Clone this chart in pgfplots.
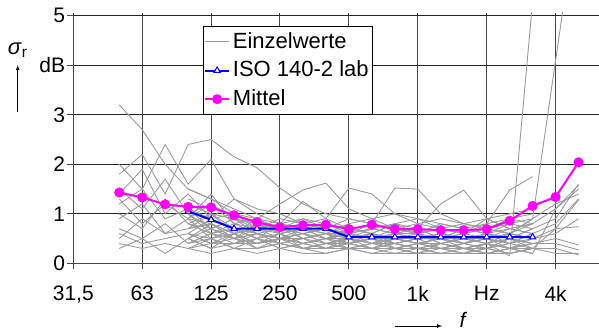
\documentclass[border=0pt]{standalone}
\usepackage{fontspec}
\setmainfont{Liberation Sans}
\usepackage{pgfplots}
\usepackage{pgfplotstable}
\pgfplotsset{compat=1.18}
\definecolor{grayline}{RGB}{155,155,155}
\definecolor{gridc}{RGB}{70,70,70}
\definecolor{mag}{RGB}{255,0,255}
\definecolor{isoblue}{RGB}{0,0,255}

% individual curves, 50 Hz ... 5000 Hz (band index 2..22); one row per curve
\pgfplotstableread{
c2 c3 c4 c5 c6 c7 c8 c9 c10 c11 c12 c13 c14 c15 c16 c17 c18 c19 c20 c21 c22
3.2 2.7 2.0 1.5 1.3 1.1 0.9 0.8 0.9 0.7 0.6 0.7 0.6 0.5 0.6 0.5 0.6 0.7 0.8 1.1 1.5
2.0 1.5 2.4 1.6 2.1 1.3 1.1 1.0 0.8 0.9 0.7 0.6 0.8 0.6 0.5 0.7 0.6 0.5 0.7 0.9 1.6
1.8 2.2 1.4 2.4 2.5 2.15 1.93 1.52 1.2 1.0 0.9 0.8 0.7 0.8 0.7 0.6 0.7 0.8 0.9 1.2 1.4
1.5 1.1 1.7 1.0 1.2 0.9 0.8 0.7 0.6 0.7 0.5 0.6 0.5 0.4 0.5 0.4 0.5 0.4 0.6 0.8 1.3
1.4 1.9 1.0 1.4 0.9 1.0 0.7 0.8 0.7 0.6 0.6 0.5 0.6 0.6 0.4 0.5 0.4 0.6 0.5 0.7 0.74
1.3 0.8 1.2 0.9 1.4 0.8 0.9 0.6 0.7 0.5 0.5 0.6 0.4 0.5 0.5 0.4 0.5 0.4 0.5 0.6 0.9
1.2 1.5 0.9 1.1 0.7 0.9 0.6 0.7 0.5 0.6 0.4 0.5 0.5 0.4 0.3 0.4 0.3 0.5 0.4 0.5 0.37
1.0 0.7 1.3 0.8 1.0 0.6 0.7 0.5 0.6 0.4 0.5 0.4 0.3 0.4 0.4 0.3 0.4 0.3 0.4 0.4 0.27
0.9 1.2 0.6 0.9 0.5 0.7 0.5 0.6 0.4 0.5 0.3 0.4 0.4 0.3 0.3 0.3 0.2 0.3 0.3 0.3 0.17
0.7 0.5 0.8 0.4 0.6 0.5 0.4 0.5 0.3 0.4 0.4 0.3 0.3 0.2 0.3 0.2 0.3 0.2 0.3 0.2 0.2
0.6 0.4 0.5 0.6 0.4 0.4 0.5 0.3 0.4 0.3 0.3 0.2 0.3 0.3 0.2 0.2 0.2 0.3 0.2 1.1 1.58
0.4 0.3 0.4 0.3 0.5 0.3 0.3 0.4 0.3 0.2 0.3 0.3 0.2 0.2 0.2 0.3 0.2 0.2 0.3 0.7 1.28
0.3 0.5 0.2 0.5 0.3 0.6 0.4 0.5 0.4 0.5 0.4 0.3 0.4 0.3 0.4 0.3 0.4 0.15 5.3 9 12
0.5 0.9 0.6 0.7 0.8 0.5 0.6 0.5 0.5 0.4 0.5 0.4 0.5 0.4 0.5 0.6 0.5 0.6 0.9 4.1 7.3
}\rawA
\pgfplotstabletranspose\tabA{\rawA}

% individual curves, 100 Hz ... 3150 Hz (band index 5..20); one row per curve
\pgfplotstableread{
c5 c6 c7 c8 c9 c10 c11 c12 c13 c14 c15 c16 c17 c18 c19 c20
1.3 1.1 1.0 0.9 1.2 1.48 1.62 1.1 0.9 1.0 0.8 0.9 0.8 0.9 1.0 1.1
1.1 0.9 1.3 1.0 0.8 1.25 0.9 1.52 1.4 1.0 0.9 0.8 0.7 0.8 1.48 1.75
0.9 1.2 0.8 0.7 0.9 0.8 0.7 0.9 0.8 1.52 1.5 1.0 0.8 0.7 0.9 0.8
0.8 0.7 0.9 0.8 0.6 0.7 0.8 0.6 0.7 0.8 0.7 1.2 1.48 0.9 0.7 0.8
0.7 0.8 0.6 0.7 0.7 0.6 0.5 0.7 0.6 0.5 0.6 0.7 0.6 0.8 0.9 1.0
0.6 0.9 0.7 0.5 0.8 0.5 0.6 0.5 0.7 0.6 0.5 0.5 0.7 0.6 0.5 0.7
1.0 0.6 0.8 0.6 0.5 0.7 0.6 0.4 0.5 0.7 0.6 0.4 0.5 0.5 0.6 0.5
0.5 0.7 0.5 0.8 0.6 0.4 0.5 0.6 0.5 0.4 0.5 0.6 0.4 0.6 0.4 0.6
0.4 0.5 0.6 0.4 0.5 0.6 0.4 0.5 0.4 0.5 0.4 0.5 0.5 0.4 0.5 0.4
0.8 0.6 0.4 0.6 0.4 0.5 0.3 0.4 0.6 0.3 0.4 0.3 0.4 0.5 0.3 0.5
0.3 0.4 0.5 0.3 0.4 0.3 0.4 0.3 0.4 0.4 0.3 0.4 0.3 0.3 0.4 0.3
0.6 0.5 0.3 0.5 0.3 0.4 0.5 0.4 0.3 0.5 0.5 0.3 0.2 0.4 0.3 0.4
0.5 0.3 0.4 0.4 0.6 0.3 0.3 0.5 0.3 0.3 0.2 0.4 0.3 0.2 0.3 0.2
1.2 1.0 0.7 0.6 0.5 0.6 0.7 0.6 0.5 0.6 0.7 0.5 0.6 0.7 0.6 0.9
0.7 1.0 0.9 0.7 0.8 0.7 0.6 0.8 0.9 0.7 0.6 0.8 0.7 0.6 0.8 0.7
0.9 0.8 0.6 0.9 0.7 0.9 0.8 0.7 0.6 0.8 0.9 0.7 0.6 0.9 0.7 0.6
0.4 0.6 0.7 0.5 0.4 0.5 0.6 0.5 0.6 0.4 0.5 0.6 0.5 0.5 0.6 0.5
0.3 0.2 0.3 0.2 0.3 0.2 0.2 0.3 0.2 0.2 0.3 0.2 0.2 0.3 0.2 0.3
1.5 1.3 1.0 0.8 0.7 0.8 0.7 0.6 0.8 0.7 0.6 0.7 0.8 0.7 0.6 0.8
1.0 0.7 0.5 0.7 0.6 0.7 0.5 0.6 0.4 0.6 0.7 0.5 0.4 0.5 0.7 0.6
0.6 0.4 0.6 0.3 0.5 0.4 0.3 0.4 0.5 0.3 0.4 0.5 0.3 0.4 0.3 0.4
0.5 0.8 0.5 0.6 0.4 0.3 0.4 0.3 0.3 0.4 0.3 0.3 0.4 0.3 0.5 0.3
}\rawB
\pgfplotstabletranspose\tabB{\rawB}

\begin{document}
\begin{tikzpicture}
\path[use as bounding box] (-73.3pt,-69.7pt) rectangle (525.7pt,263.3pt);
\begin{axis}[
  at={(0pt,0pt)}, anchor=south west,
  scale only axis, width=525.7pt, height=250.5pt,
  xmin=0, xmax=22.89, ymin=0, ymax=5.06,
  axis lines=left,
  axis line style={-, gridc, line width=1pt},
  xtick={0,3,6,9,12,15,18,21},
  xticklabels={{31,5},63,125,250,500,1k,Hz,4k},
  ytick={0,1,2,3,4,5},
  yticklabels={0,1,2,3,dB,5},
  tick align=outside, major tick length=6pt,
  tick style={gridc, line width=1pt},
  grid=major,
  x grid style={gridc, line width=1pt},
  y grid style={black!85, line width=1pt},
  tick label style={font=\fontsize{21}{25}\selectfont},
  xticklabel style={yshift=-13pt},
  yticklabel style={xshift=1.4pt},
  legend cell align=left,
  legend style={at={(axis description cs:0.2462,0.948)}, anchor=north west,
    draw=black, line width=0.8pt, fill=white,
    font=\fontsize{22}{26}\selectfont,
    inner xsep=1pt, inner ysep=1.25pt,
    nodes={inner xsep=2.8pt, inner ysep=4.6pt, text height=16pt, text depth=3.5pt}},
  legend image code/.code={\draw[mark repeat=2,mark phase=2,#1] plot coordinates {(0pt,0pt) (12pt,0pt) (24pt,0pt)};},
]
\addlegendimage{grayline, line width=0.9pt}
\addlegendentry{Einzelwerte}
\pgfplotsinvokeforeach{1,...,14}{
  \addplot[grayline, line width=0.9pt, forget plot] table[x expr=\coordindex+2, y index=#1]{\tabA};
}
\pgfplotsinvokeforeach{1,...,22}{
  \addplot[grayline, line width=0.9pt, forget plot] table[x expr=\coordindex+5, y index=#1]{\tabB};
}
\addplot[isoblue, line width=2pt, mark=triangle*, mark size=3.6pt,
  mark options={fill=white, draw=isoblue, line width=1pt}] coordinates {
  (5,1.05) (6,0.88) (7,0.70) (8,0.70) (9,0.70) (10,0.70) (11,0.70)
  (12,0.53) (13,0.53) (14,0.53) (15,0.53) (16,0.53) (17,0.53) (18,0.53) (19,0.53) (20,0.53)};
\addlegendentry{ISO 140-2 lab}
\addplot[mag, line width=2pt, mark=*, mark size=4pt, mark options={fill=mag, draw=mag}] coordinates {
  (2,1.43) (3,1.33) (4,1.19) (5,1.14) (6,1.13) (7,0.97) (8,0.83) (9,0.73) (10,0.77)
  (11,0.78) (12,0.69) (13,0.78) (14,0.69) (15,0.69) (16,0.67) (17,0.67) (18,0.69)
  (19,0.86) (20,1.16) (21,1.34) (22,2.04)};
\addlegendentry{Mittel}
\end{axis}
\node[anchor=base west, inner sep=0pt, font=\fontsize{22}{26}\selectfont] at (-65.6pt,208.5pt) {\textit{σ}\textsubscript{r}};
\draw[-latex, line width=0.7pt] (-55.6pt,151.3pt) -- (-55.6pt,198.3pt);
\draw[-latex, line width=0.7pt] (321.7pt,-62.7pt) -- (368.7pt,-62.7pt);
\node[anchor=base west, inner sep=0pt, font=\fontsize{21}{25}\selectfont] at (386pt,-64pt) {\textit{f}};
\end{tikzpicture}
\end{document}
